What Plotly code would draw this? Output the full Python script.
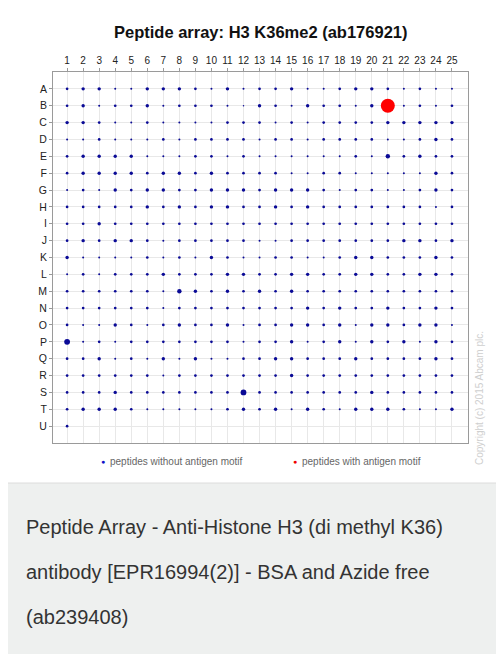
import plotly.graph_objects as go

columns = list(range(1, 26))
column_labels = [str(c) for c in columns]
row_labels = list("ABCDEFGHIJKLMNOPQRSTU")

# spot intensity levels (0 = no spot)
spot_levels = [
    [2,3,3,1,1,3,3,3,2,1,3,1,2,2,3,1,1,2,3,3,2,1,2,1,1],      # A
    [2,3,1,2,2,3,1,2,2,2,1,0.5,3,2,1,3,2,2,1,3,0,1,2,1,2],    # B
    [3,3,2,1,1,2,1,1,1,1,2,2,2,1,2,1,2,2,2,2,3,3,3,3,3],      # C
    [1,1,2,1,1,1,2,1,2,2,2,2,1,2,2,1,2,2,2,2,1,1,2,3,2],      # D
    [2,3,3,3,3,1,1,1,2,2,1,2,1,1,1,1,1,1,2,1,4,2,3,2,2],      # E
    [2,3,3,3,3,2,3,3,2,3,2,2,2,2,1,1,2,2,1,1,1,1,1,3,2],      # F
    [1,2,1,3,2,3,3,2,2,3,3,3,2,3,3,3,2,1,2,2,1,1,2,3,2],      # G
    [2,2,2,2,2,3,2,3,2,3,3,2,2,3,2,3,2,2,2,2,2,2,2,1,2],      # H
    [2,2,3,2,2,2,2,2,2,2,2,2,2,2,2,2,2,2,2,2,2,2,2,2,2],      # I
    [2,3,2,3,3,2,1,2,2,2,2,2,1,1,2,2,2,2,2,2,2,3,3,2,3],      # J
    [3,1,1,1,1,2,1,2,1,3,2,1,1,2,2,1,1,2,3,3,2,2,2,3,2],      # K
    [1,2,1,2,2,2,3,2,2,2,3,3,2,2,3,3,2,2,3,3,2,2,3,3,2],      # L
    [2,2,2,2,2,2,1,4,3,2,3,2,3,2,3,2,2,2,2,2,2,2,2,2,2],      # M
    [2,2,2,2,2,2,1,2,2,2,2,2,2,2,2,3,2,3,2,2,3,2,2,3,2],      # N
    [2,1,1,3,2,1,2,3,2,2,3,1,2,2,3,3,2,3,1,3,3,2,3,3,1],      # O
    [5,1,2,1,2,2,2,2,2,2,2,1,2,2,3,1,2,3,1,3,2,3,1,3,2],      # P
    [2,2,3,1,2,1,3,1,3,1,1,2,2,3,3,2,2,2,3,2,2,2,2,3,2],      # Q
    [2,2,2,2,2,2,1,2,2,2,2,2,2,2,3,2,2,2,2,2,2,2,2,2,2],      # R
    [2,2,2,3,2,2,2,2,2,2,2,5,2,2,2,2,2,2,2,3,2,2,2,2,2],      # S
    [2,3,3,3,2,1,1,1,1,1,2,3,2,3,1,3,2,1,3,3,3,2,1,1,3],      # T
    [2,0,0,0,0,0,0,0,0,0,0,0,0,0,0,0,0,0,0,0,0,0,0,0,0],      # U
]

motif_rows = ["B"]
motif_cols = [21]
motif_levels = [14]

level_to_px = {0.5: 1.5, 1: 2.0, 2: 2.7, 3: 3.4, 4: 4.4, 5: 5.8}

bx, by, bs = [], [], []
for r_i, row in enumerate(spot_levels):
    for c_i, lv in enumerate(row):
        if lv > 0:
            bx.append(columns[c_i])
            by.append(r_i + 1)
            bs.append(level_to_px[lv])

rx = motif_cols
ry = [row_labels.index(r) + 1 for r in motif_rows]

FONT = "Liberation Sans, Arial, sans-serif"

fig = go.Figure()
fig.add_trace(go.Scatter(x=bx, y=by, mode="markers",
                         marker=dict(size=bs, color="#0a0a96", opacity=1, line=dict(width=0)),
                         name="peptides without antigen motif", hoverinfo="skip"))
fig.add_trace(go.Scatter(x=rx, y=ry, mode="markers",
                         marker=dict(size=motif_levels, color="#ff0000", opacity=1, line=dict(width=0)),
                         name="peptides with antigen motif", hoverinfo="skip"))

# figure is placed 8px in from the window corner by the page body margin
OFF = 8
W, H = 488, 646
L, T = 53 - OFF, 72 - OFF
R = W - (468 - OFF)
B = H - (443 - OFF)
pw, ph = W - L - R, H - T - B

def px_x(x):
    return (x - OFF - L) / pw

def px_y(y):
    return 1 - (y - OFF - T) / ph

shapes = [
    dict(type="rect", xref="paper", yref="paper", layer="below",
         x0=px_x(6), x1=px_x(530), y0=px_y(483), y1=px_y(2),
         fillcolor="white", line=dict(color="#dcdcdc", width=1)),
]

annotations = [
    dict(text="<b>Peptide array: H3 K36me2 (ab176921)</b>", xref="paper", yref="paper",
         x=0.5, y=px_y(32), showarrow=False, xanchor="center", yanchor="middle",
         font=dict(family=FONT, size=16.5, color="#111")),
    dict(text="●", xref="paper", yref="paper", x=px_x(103), y=px_y(462), showarrow=False,
         xanchor="center", yanchor="middle", font=dict(family=FONT, size=7, color="#1010c8")),
    dict(text="peptides without antigen motif", xref="paper", yref="paper", x=px_x(108),
         y=px_y(462), showarrow=False, xanchor="left", yanchor="middle",
         font=dict(family=FONT, size=10, color="#666")),
    dict(text="●", xref="paper", yref="paper", x=px_x(295), y=px_y(462), showarrow=False,
         xanchor="center", yanchor="middle", font=dict(family=FONT, size=7, color="#f00000")),
    dict(text="peptides with antigen motif", xref="paper", yref="paper", x=px_x(300),
         y=px_y(462), showarrow=False, xanchor="left", yanchor="middle",
         font=dict(family=FONT, size=10, color="#666")),
    dict(text="Copyright (c) 2015 Abcam plc.", xref="paper", yref="paper", x=px_x(479),
         y=px_y(398), showarrow=False, textangle=-90, xanchor="center", yanchor="middle",
         font=dict(family=FONT, size=10, color="#cfcfcf")),
]
caption_lines = ["Peptide Array - Anti-Histone H3 (di methyl K36)",
                 "antibody [EPR16994(2)] - BSA and Azide free",
                 "(ab239408)"]
for i, line in enumerate(caption_lines):
    annotations.append(dict(text=line, xref="paper", yref="paper", x=px_x(24),
                            y=px_y(527 + 45 * i), showarrow=False, xanchor="left",
                            yanchor="middle", font=dict(family=FONT, size=20, color="#333")))

fig.update_layout(
    width=W, height=H,
    margin=dict(l=L, r=R, t=T, b=B, pad=0),
    paper_bgcolor="#eef0ef", plot_bgcolor="white",
    showlegend=False,
    shapes=shapes, annotations=annotations,
    xaxis=dict(side="top", range=[0.12, 26], tickvals=columns, ticktext=column_labels,
               showgrid=True, gridcolor="#e8e8e8", gridwidth=1, zeroline=False,
               showline=True, linecolor="#9a9a9a", linewidth=1, mirror=True,
               ticks="outside", ticklen=3, tickcolor="#999",
               tickfont=dict(family=FONT, size=10, color="#222"), fixedrange=True),
    yaxis=dict(range=[22, 0], tickvals=list(range(1, 22)), ticktext=row_labels,
               showgrid=True, gridcolor="#e8e8e8", gridwidth=1, zeroline=False,
               showline=True, linecolor="#9a9a9a", linewidth=1, mirror=True,
               ticks="outside", ticklen=3, tickcolor="#999",
               tickfont=dict(family=FONT, size=10.5, color="#222"), fixedrange=True),
)
fig.update_xaxes(tickprefix="<b>", ticksuffix="</b>")
fig.update_yaxes(tickprefix="<b>", ticksuffix="</b>")

fig.write_html("out.html")
